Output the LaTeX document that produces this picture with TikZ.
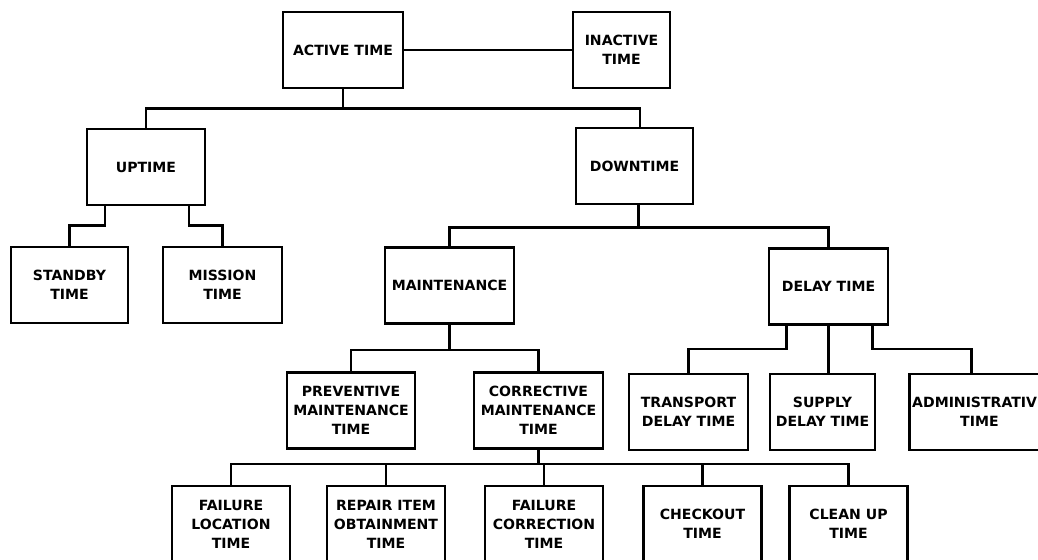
\documentclass[tikz,border=0pt]{standalone}
\usepackage{fontspec}
\setmainfont{DejaVu Sans}
\usetikzlibrary{calc}

\newcommand{\chartfont}{\fontsize{10}{13.5}\selectfont\bfseries}

\begin{document}
\begin{tikzpicture}[x=0.025cm, y=-0.025cm,
    box/.style={rectangle, draw, line width=2pt, align=center, inner sep=1pt, minimum width=2.95cm, minimum height=1.9cm, font=\chartfont},
    link/.style={line width=1.8pt}
]
    \fill[white] (0,0) rectangle (1038,559);
    \useasboundingbox (0,0) rectangle (1038,559);

    % Top level
    \node[box, minimum width=3cm] (active) at (343,50) {ACTIVE TIME};
    \node[box, minimum width=2.425cm] (inactive) at (621.5,50) {INACTIVE\\TIME};

    % Second level
    \node[box] (uptime) at (146,167) {UPTIME};
    \node[box, minimum width=2.925cm] (downtime) at (634.5,166) {DOWNTIME};

    % Third level
    \node[box, minimum width=2.925cm] (standby) at (69.5,285) {STANDBY\\TIME};
    \node[box, minimum width=2.975cm] (mission) at (222.5,285) {MISSION\\TIME};
    \node[box, minimum width=3.225cm] (maint) at (449.5,285.5) {MAINTENANCE};
    \node[box, minimum width=2.975cm] (delay) at (828.5,286.5) {DELAY TIME};

    % Fourth level
    \node[box, minimum width=3.2cm] (prevent) at (351,410.5) {PREVENTIVE\\MAINTENANCE\\TIME};
    \node[box, minimum width=3.225cm] (correct) at (538.5,410.5) {CORRECTIVE\\MAINTENANCE\\TIME};
    \node[box, minimum width=2.975cm] (transport) at (688.5,412) {TRANSPORT\\DELAY TIME};
    \node[box, minimum width=2.625cm] (supply) at (822.5,412) {SUPPLY\\DELAY TIME};
    \node[box, minimum width=3.5cm, anchor=west] (admin) at (908,412) {ADMINISTRATIVE\\TIME};

    % Fifth level (runs off the bottom edge)
    \node[box] (floc) at (231,524) {FAILURE\\LOCATION\\TIME};
    \node[box] (repair) at (386,524) {REPAIR ITEM\\OBTAINMENT\\TIME};
    \node[box] (fcorr) at (544,524) {FAILURE\\CORRECTION\\TIME};
    \node[box] (checkout) at (702.5,524) {CHECKOUT\\TIME};
    \node[box] (cleanup) at (848.5,524) {CLEAN UP\\TIME};

    % Active / inactive
    \draw[link] (active.east) -- (inactive.west);

    % Active time splits
    \draw[link] (active.south) -- ++(0,19) -| (uptime.north);
    \draw[link] (active.south) ++(0,19) -| ([xshift=4pt]downtime.north);

    % Uptime splits
    \draw[link] ($(uptime.south)+(-41,0)$) -- ++(0,19) -| (standby.north);
    \draw[link] ($(uptime.south)+(43,0)$) -- ++(0,19) -| (mission.north);

    % Downtime splits
    \draw[link] ([xshift=3pt]downtime.south) -- ++(0,22) -| (maint.north);
    \draw[link] ([xshift=3pt]downtime.south) ++(0,22) -| (delay.north);

    % Maintenance splits
    \draw[link] (maint.south) -- ++(0,25) -| (prevent.north);
    \draw[link] (maint.south) ++(0,25) -| (correct.north);

    % Delay time splits
    \draw[link] ($(delay.south)+(-42,0)$) -- ++(0,23) -| (transport.north);
    \draw[link] (delay.south) -- (delay.south |- supply.north);
    \draw[link] ($(delay.south)+(44,0)$) -- ++(0,23) -| ($(admin.north)+(-8,0)$);

    % Corrective maintenance splits
    \draw[link] (correct.south) -- ++(0,14) -| (floc.north);
    \draw[link] (correct.south) ++(0,14) -| (repair.north);
    \draw[link] (correct.south) ++(0,14) -| (fcorr.north);
    \draw[link] (correct.south) ++(0,14) -| (checkout.north);
    \draw[link] (correct.south) ++(0,14) -| (cleanup.north);
\end{tikzpicture}
\end{document}
